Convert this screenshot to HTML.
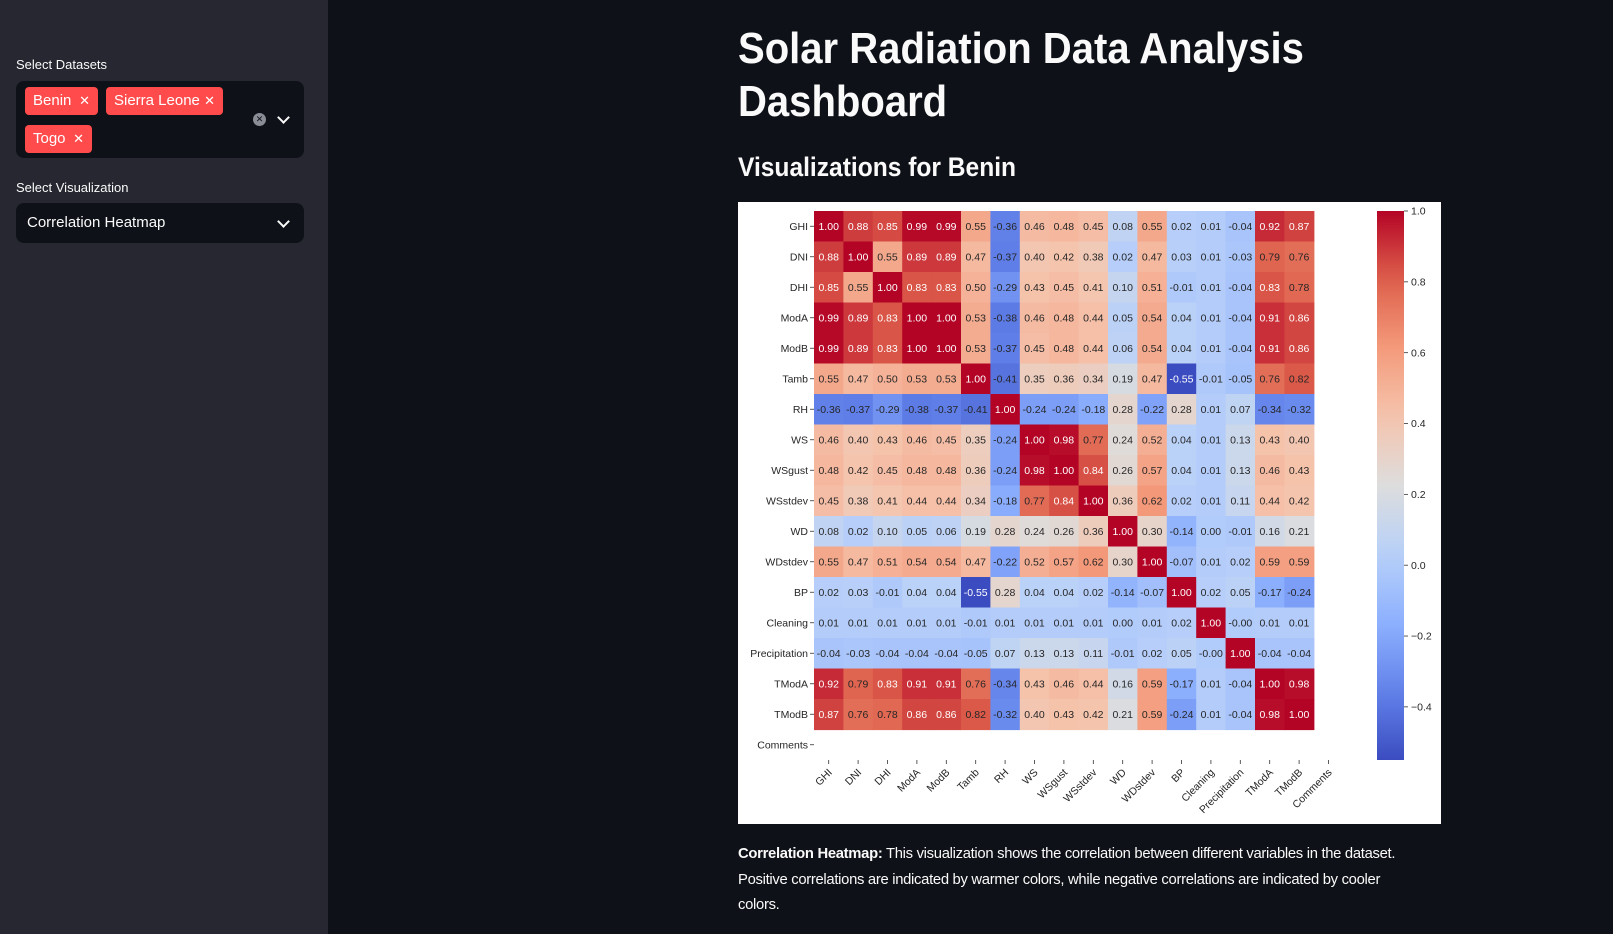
<!DOCTYPE html>
<html><head><meta charset="utf-8">
<style>
body{margin:0;width:1613px;height:934px;background:#0e1117;font-family:"Liberation Sans",sans-serif;overflow:hidden;position:relative;color:#fafafa}
.sidebar{position:absolute;left:0;top:0;width:328px;height:934px;background:#262730}
.lbl{position:absolute;left:16px;font-size:13px;color:#fafafa}
.box{position:absolute;left:16px;width:288px;background:#0e1117;border-radius:8px}
.tag{position:absolute;height:28px;background:#ff4b4b;border-radius:4px;color:#fff;font-size:15px;line-height:28px;padding-left:8px;box-sizing:border-box}
.tag span{position:absolute;right:8px;top:0;font-size:13px}
.chev{position:absolute;width:7px;height:7px;border-right:2px solid #fafafa;border-bottom:2px solid #fafafa;transform:rotate(45deg)}
h1{position:absolute;left:738px;top:22px;margin:0;font-size:44px;line-height:53px;font-weight:bold;width:700px;transform:scaleX(0.91);transform-origin:left top}
h2{position:absolute;left:738px;top:152px;margin:0;font-size:27px;font-weight:bold;transform:scaleX(0.91);transform-origin:left top}
.desc{position:absolute;left:738px;top:842px;font-size:14.8px;line-height:25.5px;letter-spacing:-0.3px;white-space:nowrap}
</style></head><body>
<div class="sidebar">
 <div class="lbl" style="top:57px">Select Datasets</div>
 <div class="box" style="top:81px;height:77px">
  <div class="tag" style="left:9px;top:6px;width:73px">Benin<span>✕</span></div>
  <div class="tag" style="left:90px;top:6px;width:117px">Sierra Leone<span>✕</span></div>
  <div class="tag" style="left:9px;top:44px;width:67px">Togo<span>✕</span></div>
  <div style="position:absolute;left:237px;top:32px;width:13px;height:13px;border-radius:50%;background:#8b8d96;color:#0e1117;font-size:9px;line-height:13px;text-align:center">✕</div>
  <div class="chev" style="left:263px;top:32px"></div>
 </div>
 <div class="lbl" style="top:180px">Select Visualization</div>
 <div class="box" style="top:203px;height:40px">
  <div style="position:absolute;left:11px;top:11px;font-size:15px">Correlation Heatmap</div>
  <div class="chev" style="left:263px;top:14px"></div>
 </div>
</div>
<h1>Solar Radiation Data Analysis Dashboard</h1>
<h2>Visualizations for Benin</h2>
<svg id="chart" style="position:absolute;left:738px;top:202px" width="703" height="622"></svg>
<div class="desc"><b>Correlation Heatmap:</b> This visualization shows the correlation between different variables in the dataset.<br>Positive correlations are indicated by warmer colors, while negative correlations are indicated by cooler<br>colors.</div>
<script>
const labels=["GHI","DNI","DHI","ModA","ModB","Tamb","RH","WS","WSgust","WSstdev","WD","WDstdev","BP","Cleaning","Precipitation","TModA","TModB","Comments"];
const matrix=[
[1.00,0.88,0.85,0.99,0.99,0.55,-0.36,0.46,0.48,0.45,0.08,0.55,0.02,0.01,-0.04,0.92,0.87],
[0.88,1.00,0.55,0.89,0.89,0.47,-0.37,0.40,0.42,0.38,0.02,0.47,0.03,0.01,-0.03,0.79,0.76],
[0.85,0.55,1.00,0.83,0.83,0.50,-0.29,0.43,0.45,0.41,0.10,0.51,-0.01,0.01,-0.04,0.83,0.78],
[0.99,0.89,0.83,1.00,1.00,0.53,-0.38,0.46,0.48,0.44,0.05,0.54,0.04,0.01,-0.04,0.91,0.86],
[0.99,0.89,0.83,1.00,1.00,0.53,-0.37,0.45,0.48,0.44,0.06,0.54,0.04,0.01,-0.04,0.91,0.86],
[0.55,0.47,0.50,0.53,0.53,1.00,-0.41,0.35,0.36,0.34,0.19,0.47,-0.55,-0.01,-0.05,0.76,0.82],
[-0.36,-0.37,-0.29,-0.38,-0.37,-0.41,1.00,-0.24,-0.24,-0.18,0.28,-0.22,0.28,0.01,0.07,-0.34,-0.32],
[0.46,0.40,0.43,0.46,0.45,0.35,-0.24,1.00,0.98,0.77,0.24,0.52,0.04,0.01,0.13,0.43,0.40],
[0.48,0.42,0.45,0.48,0.48,0.36,-0.24,0.98,1.00,0.84,0.26,0.57,0.04,0.01,0.13,0.46,0.43],
[0.45,0.38,0.41,0.44,0.44,0.34,-0.18,0.77,0.84,1.00,0.36,0.62,0.02,0.01,0.11,0.44,0.42],
[0.08,0.02,0.10,0.05,0.06,0.19,0.28,0.24,0.26,0.36,1.00,0.30,-0.14,0.00,-0.01,0.16,0.21],
[0.55,0.47,0.51,0.54,0.54,0.47,-0.22,0.52,0.57,0.62,0.30,1.00,-0.07,0.01,0.02,0.59,0.59],
[0.02,0.03,-0.01,0.04,0.04,-0.55,0.28,0.04,0.04,0.02,-0.14,-0.07,1.00,0.02,0.05,-0.17,-0.24],
[0.01,0.01,0.01,0.01,0.01,-0.01,0.01,0.01,0.01,0.01,0.00,0.01,0.02,1.00,-0.001,0.01,0.01],
[-0.04,-0.03,-0.04,-0.04,-0.04,-0.05,0.07,0.13,0.13,0.11,-0.01,0.02,0.05,-0.001,1.00,-0.04,-0.04],
[0.92,0.79,0.83,0.91,0.91,0.76,-0.34,0.43,0.46,0.44,0.16,0.59,-0.17,0.01,-0.04,1.00,0.98],
[0.87,0.76,0.78,0.86,0.86,0.82,-0.32,0.40,0.43,0.42,0.21,0.59,-0.24,0.01,-0.04,0.98,1.00]];
const cbTicks=[1.0,0.8,0.6,0.4,0.2,0.0,-0.2,-0.4];
const cbTickLabels=["1.0","0.8","0.6","0.4","0.2","0.0","\u22120.2","\u22120.4"];
const vmin=-0.55,vmax=1.0;
const cmap=[[0,59,76,192],[0.125,98,130,234],[0.25,141,176,254],[0.375,184,208,249],[0.5,221,221,221],[0.625,245,196,173],[0.75,244,154,123],[0.875,222,96,76],[1,180,4,38]];
function color(v){let t=Math.max(0,Math.min(1,(v-vmin)/(vmax-vmin)));for(let i=0;i<cmap.length-1;i++){const a=cmap[i],b=cmap[i+1];if(t<=b[0]){const f=(t-a[0])/(b[0]-a[0]);return[0,1,2].map(k=>Math.round(a[k+1]+f*(b[k+1]-a[k+1])));}}return[180,4,38];}
function fmt(v){const s=v.toFixed(2);return (v<0&&s==="0.00")?"-0.00":s;}
const NS="http://www.w3.org/2000/svg";const svg=document.getElementById('chart');
const x0=76,y0=9,cw=29.4,ch=30.5;
const xs=i=>x0+i*cw, ys=i=>y0+i*ch;
function mk(t,a,txt){const e=document.createElementNS(NS,t);for(const k in a)e.setAttribute(k,a[k]);if(txt!==undefined)e.textContent=txt;svg.appendChild(e);return e;}
mk('rect',{x:0,y:0,width:703,height:622,fill:'#fff'});
matrix.forEach((row,r)=>row.forEach((v,c)=>{
 const col=color(v);
 const rc=mk('rect',{x:xs(c),y:ys(r),width:cw+0.6,height:ch+0.6,fill:`rgb(${col})`});
 
 
 const lum=(0.2126*col[0]+0.7152*col[1]+0.0722*col[2])/255;
 const tx=mk('text',{x:xs(c)+cw/2,y:ys(r)+ch/2+3.7,'text-anchor':'middle','font-size':10.5,fill:lum<0.45?'#fff':'#262626'},fmt(v));
 
 
}));
labels.forEach((l,i)=>{
 const y=ys(i)+ch/2;
 mk('line',{x1:x0-4,x2:x0,y1:y,y2:y,stroke:'#333','stroke-width':0.8});
 const t=mk('text',{x:x0-6,y:y+3.7,'text-anchor':'end','font-size':10.5,fill:'#262626'},l);
 
 
 const x=xs(i)+cw/2,yb=y0+labels.length*ch;
 mk('line',{x1:x,x2:x,y1:yb,y2:yb+4,stroke:'#333','stroke-width':0.8});
 const t2=mk('text',{x:x+4,y:yb+13,'text-anchor':'end','font-size':10.5,fill:'#262626',transform:`rotate(-45 ${x+4} ${yb+13})`},l);
 
 
});
const cbx=639,cbw=27,cbTop=9,cbBot=558;
const cy=v=>cbTop+(vmax-v)/(vmax-vmin)*(cbBot-cbTop);
const defs=mk('defs',{});const g=document.createElementNS(NS,'linearGradient');g.setAttribute('id','cg');g.setAttribute('x1',0);g.setAttribute('y1',1);g.setAttribute('x2',0);g.setAttribute('y2',0);defs.appendChild(g);
for(let i=0;i<=20;i++){const v=vmin+i/20*(vmax-vmin);const s=document.createElementNS(NS,'stop');s.setAttribute('offset',i/20);s.setAttribute('stop-color',`rgb(${color(v)})`);g.appendChild(s);}
const cb=mk('rect',{x:cbx,y:cbTop,width:cbw,height:cbBot-cbTop,fill:'url(#cg)'});


cbTicks.forEach((v,i)=>{const y=cy(v);mk('line',{x1:cbx+cbw,x2:cbx+cbw+4,y1:y,y2:y,stroke:'#333','stroke-width':0.8});
 const t=mk('text',{x:cbx+cbw+7,y:y+3.7,'font-size':10.5,fill:'#262626'},cbTickLabels[i]);
 
 });
</script>
</body></html>
